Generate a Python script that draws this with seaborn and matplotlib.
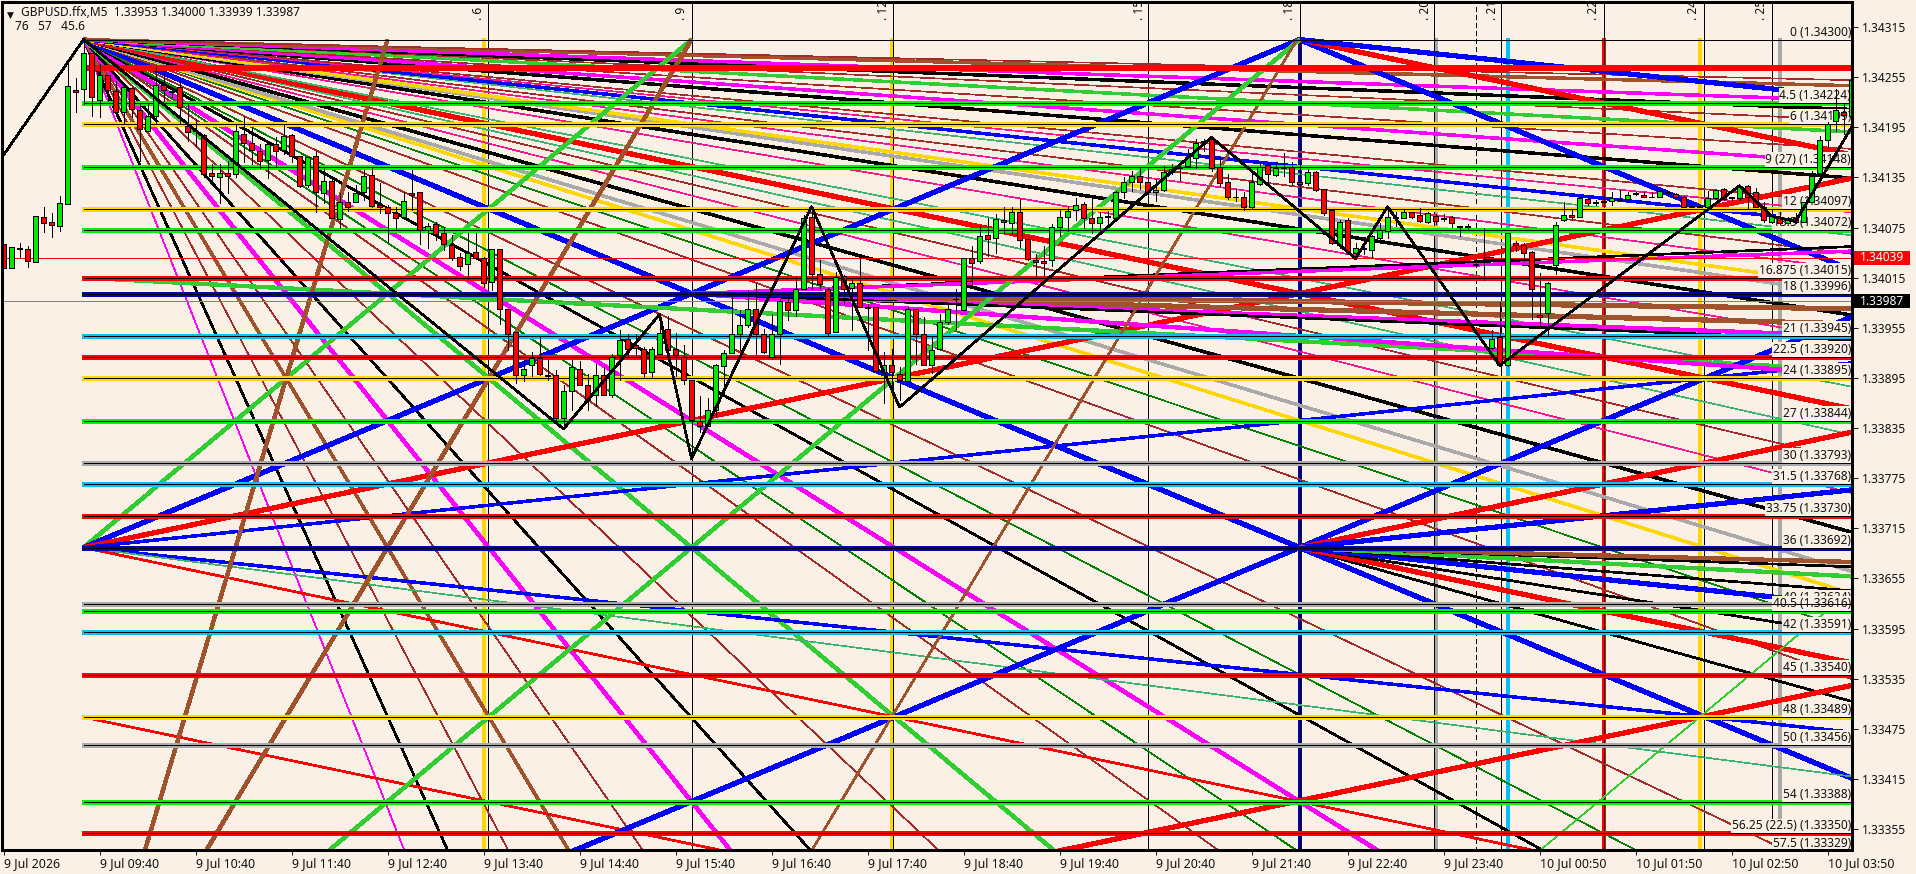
#!/usr/bin/env python3
# GBPUSD M5 chart with fibonacci levels and gann fans

import pandas as pd
import matplotlib
matplotlib.use('Agg')
import matplotlib.pyplot as plt
from matplotlib.patches import Rectangle
import seaborn as sns

#%% DATA

# candles, in points (price * 100000), one entry per bar
open_pts = [134055,134027,134051,134049,134034,134088,134082,134077,134103,134240,134241,134284,134228,134258,134238,134213,134242,134216,134191,134208,
134246,134238,134243,134197,134191,134186,134140,134135,134140,134139,134187,134176,134167,134156,134175,134168,134186,134161,134126,134161,
134116,134131,134085,134106,134106,134118,134138,134102,134100,134092,134088,134116,134117,134072,134079,134068,134054,134040,134031,134046,
134039,134010,134049,133977,133950,133899,133910,133919,133899,133898,133847,133879,133906,133887,133875,133899,133875,133922,133942,133934,
133930,133902,133924,133953,133930,133920,133892,133844,133837,133857,133909,133925,133948,133958,133977,133948,133920,133948,133986,133976,
134001,134088,134020,134001,133950,134017,134003,134009,133980,133980,133902,133911,133900,133891,133977,133948,133910,133930,133962,133990,
133976,134039,134035,134066,134063,134084,134081,134094,134061,134036,134035,134036,134076,134088,134096,134103,134086,134081,134089,134087,
134118,134130,134137,134130,134117,134120,134142,134147,134149,134158,134178,134181,134148,134130,134112,134112,134099,134127,134150,134138,
134147,134147,134129,134128,134142,134121,134096,134054,134084,134045,134050,134048,134063,134071,134088,134087,134094,134090,134082,134089,
134085,134088,134077,134077,134031,134036,133931,133944,133911,134057,134054,134046,133970,133973,134030,134084,134090,134088,134109,134105,
134105,134107,134109,134109,134116,134114,134112,134112,134117,134115,134112,134101,134101,134100,134110,134121,134111,134110,134125,134117,
134100,134082,134088,134081,134087,134082,134106,134140,134180,134202,134213,134209]
high_pts = [134055,134052,134057,134053,134089,134100,134092,134113,134277,134254,134300,134284,134271,134258,134251,134245,134243,134223,134223,134267,
134259,134243,134249,134223,134205,134187,134151,134151,134155,134199,134207,134195,134175,134179,134183,134199,134187,134161,134159,134167,
134148,134136,134116,134118,134126,134144,134146,134128,134102,134100,134118,134144,134117,134080,134082,134076,134066,134044,134068,134068,
134040,134049,134049,133977,133950,133916,133926,133944,133917,133905,133887,133916,133915,133900,133912,133908,133924,133952,133948,133948,
133932,133932,133970,133969,133949,133934,133892,133873,133871,133912,133928,133996,133976,134000,134008,133954,133972,133990,133996,134016,
134090,134100,134036,134003,134022,134018,134014,134037,133984,133980,133926,133930,133908,133980,133978,133968,133944,133972,133982,134001,
134039,134053,134077,134086,134091,134099,134100,134109,134063,134043,134053,134079,134097,134101,134110,134106,134110,134094,134095,134119,
134135,134143,134147,134147,134133,134149,134151,134153,134169,134181,134181,134183,134159,134139,134121,134118,134139,134151,134153,134153,
134164,134153,134153,134145,134143,134121,134097,134084,134087,134057,134055,134066,134081,134098,134094,134096,134094,134098,134094,134091,
134091,134089,134077,134079,134032,134075,133952,133986,134068,134059,134057,134047,134021,134010,134082,134106,134096,134112,134112,134108,
134116,134118,134120,134118,134118,134118,134118,134120,134119,134116,134113,134101,134102,134119,134121,134122,134112,134126,134126,134122,
134106,134096,134094,134088,134092,134106,134143,134184,134201,134241,134223,134263]
low_pts = [134027,134027,134040,134028,134034,134070,134064,134071,134103,134213,134223,134208,134207,134227,134211,134199,134207,134155,134191,134199,
134227,134231,134199,134179,134173,134136,134128,134104,134116,134136,134153,134151,134146,134134,134148,134163,134153,134124,134124,134094,
134104,134086,134075,134095,134106,134108,134100,134092,134058,134072,134088,134096,134055,134050,134060,134048,134036,134024,134014,134038,
134004,134000,133959,133928,133889,133891,133897,133899,133893,133845,133837,133857,133887,133857,133861,133875,133872,133892,133920,133920,
133895,133895,133924,133922,133897,133888,133798,133830,133837,133849,133877,133925,133928,133956,133924,133925,133918,133912,133964,133969,
134001,134003,134003,133946,133950,133984,133952,133980,133928,133903,133865,133875,133869,133891,133912,133910,133901,133929,133960,133954,
133976,134007,134032,134041,134045,134069,134067,134052,134036,134015,134017,134029,134065,134071,134084,134075,134069,134068,134076,134085,
134110,134119,134121,134114,134107,134119,134139,134132,134147,134146,134167,134143,134125,134109,134107,134096,134098,134126,134127,134137,
134137,134126,134123,134126,134119,134090,134055,134051,134045,134037,134043,134039,134057,134063,134077,134086,134087,134082,134081,134079,
134083,134076,134065,134073,134029,134012,133930,133909,133909,134047,134035,133966,133955,133945,134020,134083,134086,134088,134102,134102,
134100,134102,134108,134108,134114,134112,134111,134111,134114,134110,134100,134099,134099,134099,134109,134108,134108,134108,134098,134099,
134082,134081,134079,134080,134080,134082,134106,134139,134171,134191,134187,134209]
close_pts = [134027,134052,134049,134035,134089,134081,134078,134104,134245,134237,134284,134231,134258,134240,134213,134243,134217,134193,134209,134246,
134240,134237,134219,134189,134190,134139,134137,134140,134137,134190,134176,134168,134155,134175,134167,134185,134161,134125,134159,134117,
134131,134086,134106,134100,134116,134137,134101,134099,134093,134087,134107,134114,134072,134077,134067,134055,134039,134029,134045,134039,
134009,134049,133978,133948,133899,133906,133919,133900,133897,133847,133879,133908,133887,133869,133898,133875,133920,133941,133930,133931,
133901,133930,133949,133929,133922,133892,133845,133837,133857,133910,133925,133948,133958,133977,133947,133926,133948,133987,133976,134002,
134087,134019,134007,133949,134016,134001,134009,133980,133979,133903,133911,133902,133892,133978,133948,133911,133929,133962,133977,133989,
134039,134032,134065,134061,134085,134082,134094,134060,134037,134034,134033,134076,134088,134095,134102,134087,134080,134088,134088,134118,
134130,134137,134130,134117,134120,134141,134145,134146,134159,134176,134177,134146,134128,134111,134111,134099,134129,134148,134139,134146,
134146,134129,134127,134141,134120,134093,134056,134082,134047,134051,134049,134065,134072,134088,134087,134094,134088,134083,134092,134083,
134087,134080,134076,134076,134030,134035,133942,133910,134068,134054,134045,134002,133968,134009,134078,134090,134088,134110,134104,134104,
134107,134110,134108,134114,134115,134112,134111,134119,134116,134111,134100,134100,134100,134110,134120,134109,134110,134125,134112,134100,
134084,134089,134080,134087,134082,134105,134137,134180,134199,134216,134210,134252]

# time axis
tick_bars = [0, 12, 24, 36, 48, 60, 72, 84, 96, 108, 120, 132, 144, 156, 168, 180, 192, 204, 216, 228]
tick_labels = ['9 Jul 2026', '9 Jul 09:40', '9 Jul 10:40', '9 Jul 11:40', '9 Jul 12:40', '9 Jul 13:40',
               '9 Jul 14:40', '9 Jul 15:40', '9 Jul 16:40', '9 Jul 17:40', '9 Jul 18:40', '9 Jul 19:40',
               '9 Jul 20:40', '9 Jul 21:40', '9 Jul 22:40', '9 Jul 23:40', '10 Jul 00:50', '10 Jul 01:50',
               '10 Jul 02:50', '10 Jul 03:50']
price_ticks = [1.34315, 1.34255, 1.34195, 1.34135, 1.34075, 1.34015, 1.33955, 1.33895, 1.33835, 1.33775,
               1.33715, 1.33655, 1.33595, 1.33535, 1.33475, 1.33415, 1.33355]

# fibonacci levels
fib_names = ['0', '4.5', '6', '9 (27)', '12', '13.5', '16.875', '18', '21', '22.5', '24', '27', '30', '31.5',
             '33.75', '36', '40', '40.5', '42', '45', '48', '50', '54', '56.25 (22.5)', '57.5']
fib_prices = [1.34300, 1.34224, 1.34199, 1.34148, 1.34097, 1.34072, 1.34015, 1.33996, 1.33945, 1.33920,
              1.33895, 1.33844, 1.33793, 1.33768, 1.33730, 1.33692, 1.33624, 1.33616, 1.33591, 1.33540,
              1.33489, 1.33456, 1.33388, 1.33350, 1.33329]
fib_colours = [None, 'green', 'gold', 'green', 'gold', 'green', 'red', 'navy', 'cyan', 'red', 'gold', 'green',
               'gray', 'cyan', 'red', 'navy', 'gray', 'green', 'cyan', 'red', 'gold', 'gray', 'green', 'red', None]
extra_level = 1.34266

# the fan points
top_price = 1.34300
mid_price = 1.33692
low_price = 1.33489
mid_left_price = 1.33996
side_price = 1.34015
first_bar = 10
crown_bar = 162
quarter_bar = 86
low_left_bar = 111
low_right_bar = 212
steep_bar = 48

# ratios against the 1x1 line, positive = falling to the right
fan_a_ratio = [6.05, 5.33, 4.57, 4.0, 3.47, 3.0, 2.67, 2.27, 2.0, 1.71, 1.6, 1.5, 1.33, 1.25, 1.14, 1.0, 0.866, 0.8,
               0.75, 0.72, 0.667, 0.614, 0.57, 0.535, 0.5, 0.47, 0.406, 0.373, 0.345, 0.333, 0.311, 0.29, 0.265,
               0.25, 0.234, 0.221, 0.1875, 0.167, 0.148, 0.125, 0.109, 0.0946, 0.0825, 0.0625, 0.055]
fan_a_style = ['magenta1', 'black2', 'brown1', 'sienna3', 'brown1', 'magenta4', 'black2', 'brown1', 'lime4', 'brown1',
               'dgreen1', 'magenta4', 'black2', 'dgreen1', 'brown1', 'blue5', 'brown1', 'dgreen1', 'gold3', 'gray3', 'black3',
               'pink1', 'brown1', 'sea1', 'red5', 'sea1', 'pink1', 'black3', 'gray3', 'gold3', 'pink1', 'brown1', 'sea1',
               'blue3', 'pink1', 'brown1', 'black3', 'magenta3', 'brown1', 'lime3', 'brown1', 'black3', 'magenta3',
               'sienna3', 'brown1']
fan_b_ratio = [-2.0, -1.0, -0.5, -0.25, 0.25, 0.31, 0.5]
fan_b_style = ['lime4', 'blue5', 'red5', 'blue3', 'blue3', 'sea1', 'red3']
fan_crown_ratio = [1.0, 0.5, 0.25]
fan_crown_style = ['blue5', 'red5', 'blue5']
fan_c_ratio = [-1.0, -0.5, -0.25, 0.667, 0.5, 0.375, 0.25, 0.1875, 0.125, 0.0833, 0.0625]
fan_c_style = ['blue5', 'red5', 'blue5', 'black2', 'red5', 'black2', 'blue5', 'black2', 'lime4', 'black2', 'sienna4']
fan_d_ratio = [0.03125, 0.0625, 0.167, 0.0875, 0.096, -0.097, -0.0875]
fan_d_style = ['sienna5', 'sienna5', 'magenta4', 'magenta4', 'black2', 'black2', 'magenta3']
fan_f_ratio = [-0.5, -2.0]
fan_f_style = ['red5', 'lime1']

# vertical lines
thick_bars = [60, 111, 162, 179, 188, 200, 212, 222]
thick_colours = ['gold', 'gold', 'navy', 'gray', 'cyan', 'red', 'gold', 'gray']
black_bars = [60.6, 86, 111.2, 143, 162, 178.8, 187.2, 200, 212.6, 221.1]
dash_bar = 184
count_bars = [59.4, 84.8, 110, 142, 160.8, 177.8, 186.1, 198.8, 211.3, 219.8]
count_names = ['6', '9', '12', '15', '18', '20', '21', '22', '24', '25']

# zigzag
zig_bars = [-0.2, 10, 70, 82, 86, 101, 112, 151, 169, 173, 187, 217, 221, 224, 231]
zig_prices = [1.34159, 1.34300, 1.33834, 1.33971, 1.33798, 1.34100, 1.33860, 1.34183, 1.34038, 1.34100,
              1.33910, 1.34125, 1.34089, 1.34082, 1.34195]

ask_price = 1.34039
bid_price = 1.33987

#%% STYLE

BG = '#FAF0E6'
PX = 0.6    # one line step in points at dpi 100
THIN = 0.45  # one pixel wide, no stair doubling
COLOURS = {'green': '#00F000', 'gold': '#FFD700', 'red': '#FF0000', 'navy': '#0000A8', 'cyan': '#00BFFF',
           'gray': '#A9A9A9'}
STYLES = {'magenta1': ('#FF00FF', 1), 'magenta3': ('#FF00FF', 3), 'magenta4': ('#FF00FF', 4),
          'black2': ('#000000', 2), 'black3': ('#000000', 3), 'brown1': ('#A52A2A', 1), 'sienna2': ('#A0522D', 2),
          'sienna3': ('#A0522D', 3), 'sienna4': ('#A0522D', 4), 'sienna5': ('#A0522D', 5), 'lime1': ('#32CD32', 1),
          'lime3': ('#32CD32', 3), 'lime4': ('#32CD32', 4), 'dgreen1': ('#008000', 1), 'blue3': ('#0000FF', 3),
          'blue5': ('#0000FF', 5), 'gold3': ('#FFD700', 3), 'gray3': ('#A9A9A9', 3), 'pink1': ('#FF1493', 1),
          'sea1': ('#3CB371', 1), 'red3': ('#FF0000', 2), 'red5': ('#FF0000', 5)}
UNIT = 0.00004  # price per bar of the 1x1 line
RIGHT = 231.06
LEFT = -0.14

sns.set_theme(style='white', rc={'axes.facecolor': BG, 'figure.facecolor': BG, 'axes.edgecolor': 'black',
                                 'axes.linewidth': 0.8, 'lines.antialiased': False, 'patch.antialiased': False,
                                 'lines.solid_capstyle': 'butt'})
plt.rcParams['font.family'] = ['Noto Sans', 'DejaVu Sans']
FS = 8.6

fig = plt.figure(figsize=(19.16, 8.74), dpi=100)
ax = fig.add_axes([2.4/1916, (874-850)/874, (1852-2.4)/1916, (850-2.3)/874])


def line(xs, ys, style, z=2):
    colour, width = STYLES[style]
    lw = THIN if width == 1 else width*PX
    sns.lineplot(x=xs, y=ys, color=colour, linewidth=lw, estimator=None, sort=False,
                 legend=False, ax=ax, zorder=z)


def fan(bar, price, ratios, styles, end=RIGHT):
    for r, s in zip(ratios, styles):
        to_bar = end
        to_price = price - r*UNIT*(end-bar)
        # the fans stop at the 0 level
        if to_price > top_price:
            to_bar = bar + (top_price-price)/(-r*UNIT)
            to_price = top_price
        line([bar, to_bar], [price, to_price], s)


#%% LINES

for k, c in zip(thick_bars, thick_colours):
    ax.vlines(k, 1.33, top_price+0.00002, color=COLOURS[c], lw=2.8, zorder=1.8)
ax.vlines(black_bars, 1.33, 1.35, color='black', lw=THIN, zorder=1.9)
ax.vlines(dash_bar, 1.33, 1.35, color='black', lw=THIN, linestyle=(0, (7, 6)), zorder=1.9)

# fans
fan(first_bar, top_price, fan_a_ratio, fan_a_style)
fan(first_bar, mid_price, fan_b_ratio, fan_b_style)
fan(first_bar, low_price, [0.5], ['red3'])
fan(first_bar, side_price, [0.125], ['lime4'])
fan(crown_bar, top_price, fan_crown_ratio, fan_crown_style)
fan(crown_bar, mid_price, fan_c_ratio, fan_c_style)
fan(quarter_bar, mid_left_price, fan_d_ratio, fan_d_style)
# lines going back to the left
fan(crown_bar, top_price, [-2.0], ['lime4'], end=LEFT)
fan(crown_bar, mid_price, [-1.0], ['blue5'], end=LEFT)
fan(quarter_bar, top_price, [-4.0], ['sienna4'], end=LEFT)
fan(steep_bar, top_price, [-8.0], ['sienna4'], end=LEFT)
fan(low_left_bar, low_price, [-4.0], ['sienna2'])
fan(low_left_bar, low_price, [-4.0], ['sienna2'], end=LEFT)
fan(low_right_bar, low_price, fan_f_ratio, fan_f_style)
fan(low_right_bar, low_price, fan_f_ratio, fan_f_style, end=LEFT)

# levels and their labels
ax.hlines(extra_level, first_bar, RIGHT, color=COLOURS['red'], lw=2.9, zorder=2.1)
for i, (name, price, c) in enumerate(zip(fib_names, fib_prices, fib_colours)):
    if c is not None:
        ax.hlines(price, first_bar-0.2, RIGHT, color=COLOURS[c], lw=2.5, zorder=2.1)
    ax.text(RIGHT-0.1, price+0.00001, '%s (%.5f)' % (name, price), ha='right', va='bottom', fontsize=FS,
            color='#111111', zorder=2.5+i*0.001, bbox=dict(fc=BG, ec='none', pad=0.6), linespacing=1)
ax.hlines(fib_prices, first_bar, RIGHT, color='black', lw=THIN, zorder=2.6)

ax.hlines(ask_price, LEFT, RIGHT, color='#FF0000', lw=THIN, zorder=2.7)
ax.hlines(bid_price, LEFT, RIGHT, color='#808080', lw=THIN, zorder=2.7)

#%% CANDLES

df = pd.DataFrame({'open': open_pts, 'high': high_pts, 'low': low_pts, 'close': close_pts}) / 100000
df['bar'] = df.index
df['up'] = df['close'] >= df['open']
ax.vlines(df['bar'], df['low'], df['high'], color='black', lw=THIN, zorder=3)
ax.bar(df['bar'], (df['close']-df['open']).abs(), bottom=df[['open', 'close']].min(axis=1), width=0.55,
       color=df['up'].map({True: '#00E800', False: '#FF0000'}), edgecolor='black', linewidth=THIN, zorder=3.1)

# zigzag on top of them
line(zig_bars, zig_prices, 'black2', z=3.5)

#%% AXES

ax.set_xlim(LEFT, RIGHT)
ax.set_ylim(1.33330, 1.343446)
ax.set_xlabel('')
ax.set_ylabel('')
ax.set_xticks(tick_bars)
ax.set_xticklabels(tick_labels, ha='left', fontsize=8.9)
ax.set_yticks(price_ticks)
ax.set_yticklabels(['%.5f' % p for p in price_ticks], fontsize=FS)
ax.yaxis.tick_right()
ax.tick_params(axis='x', bottom=True, length=3.5, width=0.7, pad=1.5, colors='#111111')
ax.tick_params(axis='y', right=True, length=4, width=0.7, pad=3, colors='#111111')
for sp in ax.spines.values():
    sp.set_zorder(6)

# count labels on top of the verticals
for k, name in zip(count_bars, count_names):
    ax.text(k, 1.34323, '. ' + name, rotation=90, ha='center', va='bottom', fontsize=FS, color='#111111', zorder=5)

# price tags
for price, colour in zip([ask_price, bid_price], ['#FF0000', '#000000']):
    ax.add_patch(Rectangle((231.3, price-0.000085), 7.0, 0.00017, fc=colour, ec='none', clip_on=False, zorder=7))
    ax.text(232.0, price, '%.5f' % price, ha='left', va='center', color='white', fontsize=FS, zorder=8)

# header
fig.text(7/1916, 1-15.5/874, '\u25BC', fontsize=6.5, va='center', color='#111111', zorder=9)
fig.text(21/1916, 1-13/874, 'GBPUSD.ffx,M5  1.33953 1.34000 1.33939 1.33987', fontsize=FS, va='center', color='#111111', zorder=9)
fig.text(15/1916, 1-26/874, '76   57   45.6', fontsize=FS, va='center', color='#111111', zorder=9)

fig.savefig('out.png', dpi=100, facecolor=BG)
